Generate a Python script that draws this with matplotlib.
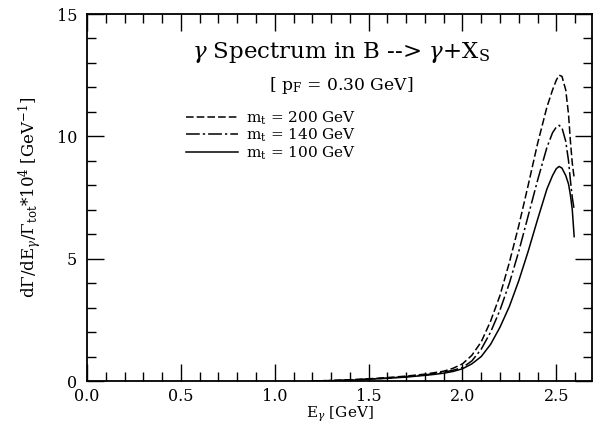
import matplotlib
matplotlib.use("Agg")
import matplotlib.pyplot as plt
from matplotlib.ticker import MultipleLocator

plt.rcParams['font.family'] = ['DejaVu Serif']
plt.rcParams['mathtext.fontset'] = 'dejavuserif'

x_vals = [1.2, 1.3, 1.4, 1.5, 1.6, 1.7, 1.8, 1.85, 1.9, 1.95, 2.0, 2.05, 2.1, 2.15, 2.2, 2.25, 2.3,
          2.35, 2.4, 2.45, 2.48, 2.5, 2.515, 2.53, 2.55, 2.565, 2.575, 2.585, 2.595]
y_200 = [0.0, 0.02, 0.05, 0.09, 0.14, 0.20, 0.28, 0.34, 0.40, 0.52, 0.70, 1.05, 1.6, 2.45, 3.5, 4.85, 6.35,
         8.0, 9.7, 11.2, 11.9, 12.3, 12.5, 12.45, 11.9, 10.9, 9.8, 8.9, 8.3]
y_140 = [0.0, 0.02, 0.04, 0.08, 0.12, 0.18, 0.25, 0.30, 0.36, 0.44, 0.55, 0.82, 1.3, 2.0, 2.9, 4.0, 5.3,
         6.75, 8.2, 9.55, 10.15, 10.38, 10.45, 10.35, 9.8, 9.0, 8.2, 7.5, 7.0]
y_100 = [0.0, 0.01, 0.03, 0.07, 0.11, 0.16, 0.23, 0.27, 0.32, 0.39, 0.50, 0.70, 1.0, 1.5, 2.2, 3.05, 4.1,
         5.3, 6.6, 7.85, 8.4, 8.68, 8.77, 8.7, 8.4, 8.05, 7.6, 7.0, 5.9]
labels = ['m$_\\mathrm{t}$ = 200 GeV', 'm$_\\mathrm{t}$ = 140 GeV', 'm$_\\mathrm{t}$ = 100 GeV']
x_ticks = [0.0, 0.5, 1.0, 1.5, 2.0, 2.5]
y_ticks = [0, 5, 10, 15]

fig = plt.figure(figsize=(6.03, 4.23), dpi=100)
ax = fig.add_axes([87/603, 1-381/423, (592-87)/603, (381-14)/423])

styles = [(0, (5, 2)), (0, (9, 2, 1.5, 2)), '-']
for ys, ls, lab in zip([y_200, y_140, y_100], styles, labels):
    ax.plot(x_vals, ys, color='black', linestyle=ls, linewidth=1.1, label=lab)

ax.set_xlim(0, 2.69)
ax.set_ylim(0, 15)
ax.set_xticks(x_ticks)
ax.set_xticklabels([f'{v:.1f}' for v in x_ticks])
ax.set_yticks(y_ticks)
ax.set_yticklabels([str(v) for v in y_ticks])
ax.xaxis.set_minor_locator(MultipleLocator(0.1))
ax.yaxis.set_minor_locator(MultipleLocator(1))
ax.tick_params(which='both', direction='in', top=True, right=True, labelsize=11.5, width=1.0)
ax.tick_params(axis='x', which='major', pad=5)
ax.tick_params(axis='y', which='major', pad=7)
ax.tick_params(which='major', length=12)
ax.tick_params(which='minor', length=6.5)
for s in ax.spines.values():
    s.set_linewidth(1.3)

ax.set_xlabel('E$_\\gamma$ [GeV]', fontsize=11)
ax.xaxis.set_label_coords(0.5, -0.064)
ax.set_ylabel('d$\\Gamma$/dE$_\\gamma$/$\\Gamma_{\\mathrm{tot}}$*10$^4$ [GeV$^{-1}$]', fontsize=12, labelpad=9)

ax.text(0.503, 0.896, '$\\gamma$ Spectrum in B --> $\\gamma$+X$_\\mathrm{S}$', transform=ax.transAxes,
        fontsize=16.5, ha='center', va='center')
ax.text(0.503, 0.804, '[ p$_\\mathrm{F}$ = 0.30 GeV]', transform=ax.transAxes,
        fontsize=12.3, ha='center', va='center')

ax.legend(loc='upper left', bbox_to_anchor=(0.197, 0.74), frameon=False, fontsize=11,
          handlelength=3.4, handletextpad=0.5, labelspacing=0.0, borderpad=0, borderaxespad=0)

fig.savefig('out.png', dpi=100)
